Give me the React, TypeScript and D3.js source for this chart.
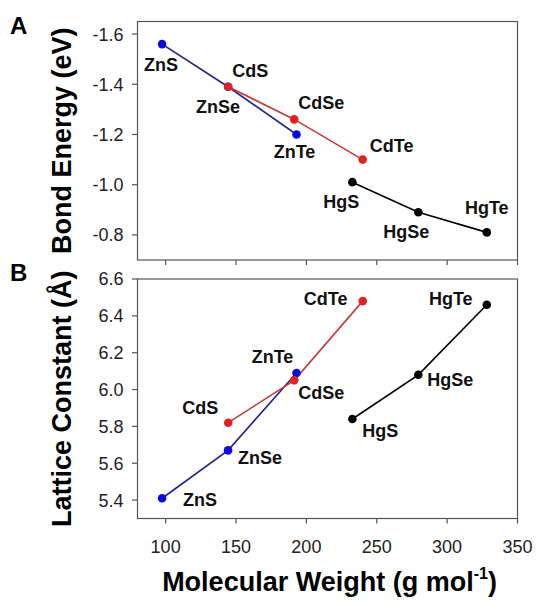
import React from "react";
import * as d3 from "d3";

// ---- data ----
const compounds = ["ZnS", "ZnSe", "ZnTe", "CdS", "CdSe", "CdTe", "HgS", "HgSe", "HgTe"];
const seriesNames = ["Zn", "Cd", "Hg"];
const molecularWeight = [97.47, 144.35, 192.99, 144.48, 191.37, 240.01, 232.66, 279.55, 328.19];
const bondEnergy = [-1.56, -1.39, -1.2, -1.39, -1.26, -1.1, -1.01, -0.89, -0.81];
const latticeConstant = [5.41, 5.67, 6.09, 5.82, 6.05, 6.48, 5.84, 6.08, 6.46];
const xTicks = [100, 150, 200, 250, 300, 350];
const bondTicks = [-1.6, -1.4, -1.2, -1.0, -0.8];
const latticeTicks = [5.4, 5.6, 5.8, 6.0, 6.2, 6.4, 6.6];

// ---- styling / layout ----
const FONT = "'Liberation Sans', Arial, Helvetica, sans-serif";
const lineColor: Record<string, string> = { Zn: "#22228a", Cd: "#c43a3a", Hg: "#000000" };
const dotColor: Record<string, string> = { Zn: "#0a0ae0", Cd: "#e02222", Hg: "#000000" };
// label offsets [dx, dy] (text center, baseline) relative to point
const labelOffA: Record<string, [number, number]> = {
  ZnS: [-1, 27], ZnSe: [-10, 26], ZnTe: [-2, 24],
  CdS: [22, -10], CdSe: [27, -10], CdTe: [29, -8],
  HgS: [-11, 26], HgSe: [-12, 26], HgTe: [0, -18],
};
const labelOffB: Record<string, [number, number]> = {
  ZnS: [38, 8], ZnSe: [32, 14], ZnTe: [-24, -10],
  CdS: [-28, -9], CdSe: [27, 19], CdTe: [-37, 4],
  HgS: [28, 18], HgSe: [32, 11], HgTe: [-36, 0],
};

const X0 = 137.5, X1 = 517.5;
const A_TOP = 21.5, A_BOT = 260;
const B_TOP = 279, B_BOT = 518.5;

const x = d3.scaleLinear().domain([80, 350]).range([X0, X1]);
const yA = d3.scaleLinear().domain([-1.65, -0.7]).range([A_TOP, A_BOT]);
const yB = d3.scaleLinear().domain([5.3, 6.6]).range([B_BOT, B_TOP]);

type Pt = { name: string; series: string; mw: number; v: number };

function Panel({
  values, y, ticks, top, bot, offs, fmt, showX, title,
}: {
  values: number[]; y: d3.ScaleLinear<number, number>; ticks: number[]; top: number; bot: number;
  offs: Record<string, [number, number]>; fmt: (v: number) => string; showX: boolean; title: React.ReactNode;
}) {
  const pts: Pt[] = compounds.map((c, i) => ({ name: c, series: c.startsWith("Zn") ? "Zn" : c.startsWith("Cd") ? "Cd" : "Hg", mw: molecularWeight[i], v: values[i] }));
  const line = d3.line<Pt>().x((d) => x(d.mw)).y((d) => y(d.v));
  return (
    <g>
      <rect x={X0} y={top} width={X1 - X0} height={bot - top} fill="none" stroke="#555" strokeWidth={1.2} />
      {ticks.map((t) => (
        <g key={t}>
          <line x1={X0 - 5.5} x2={X0} y1={y(t)} y2={y(t)} stroke="#555" strokeWidth={1.2} />
          <text x={X0 - 14} y={y(t)} dy="0.36em" textAnchor="end" fontSize={18} fill="#222">{fmt(t)}</text>
        </g>
      ))}
      {xTicks.map((t) => (
        <g key={t}>
          <line x1={x(t)} x2={x(t)} y1={bot} y2={bot + 5} stroke="#555" strokeWidth={1.2} />
          {showX && <text x={x(t)} y={bot + 34} textAnchor="middle" fontSize={18} fill="#222">{t}</text>}
        </g>
      ))}
      {seriesNames.map((s) => (
        <path key={s} d={line(pts.filter((p) => p.series === s)) || ""} fill="none" stroke={lineColor[s]} strokeWidth={1.6} />
      ))}
      {seriesNames.map((s) =>
        pts.filter((p) => p.series === s).map((p) => (
          <circle key={p.name} cx={x(p.mw)} cy={y(p.v)} r={4.3} fill={dotColor[s]} />
        ))
      )}
      {pts.map((p) => (
        <text key={p.name} x={x(p.mw) + offs[p.name][0]} y={y(p.v) + offs[p.name][1]} textAnchor="middle" fontSize={18} fontWeight="bold" fill="#111">{p.name}</text>
      ))}
      <text transform={`translate(71,${(top + bot) / 2}) rotate(-90)`} textAnchor="middle" fontSize={27} fontWeight="bold" fill="#000">{title}</text>
    </g>
  );
}

export default function App() {
  return (
    <svg width={536} height={601} style={{ position: "absolute", left: 0, top: 0, background: "#fff" }} fontFamily={FONT}>
      <rect width={536} height={601} fill="#fff" />
      <Panel values={bondEnergy} y={yA} ticks={bondTicks} top={A_TOP} bot={A_BOT} offs={labelOffA} fmt={(v) => v.toFixed(1)} showX={false} title="Bond Energy (eV)" />
      <Panel values={latticeConstant} y={yB} ticks={latticeTicks} top={B_TOP} bot={B_BOT} offs={labelOffB} fmt={(v) => v.toFixed(1)} showX={true} title="Lattice Constant (Å)" />
      <text x={10} y={34} fontSize={24} fontWeight="bold">A</text>
      <text x={10} y={281} fontSize={24} fontWeight="bold">B</text>
      <text x={(X0 + X1) / 2 + 2} y={591} textAnchor="middle" fontSize={27} fontWeight="bold">
        Molecular Weight (g mol<tspan fontSize={16} dy={-12}>-1</tspan><tspan dy={12}>)</tspan>
      </text>
    </svg>
  );
}
